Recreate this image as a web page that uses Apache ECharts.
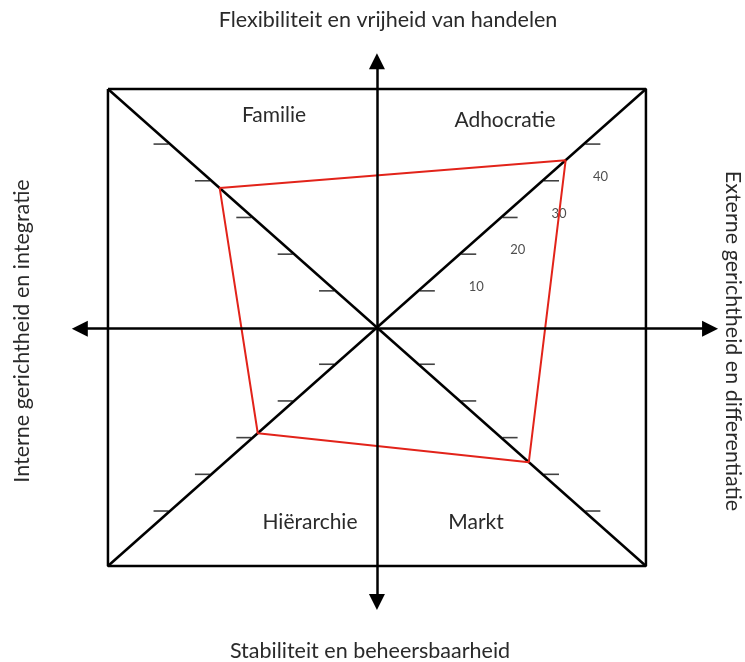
<!DOCTYPE html>
<html>
<head>
<meta charset="utf-8">
<script src="https://cdn.jsdelivr.net/npm/echarts@6/dist/echarts.min.js"></script>
<style>html,body{margin:0;padding:0;background:#fff}#c{width:745px;height:662px}</style>
</head>
<body>
<div id="c"></div>
<script>
// ---- data ----
const quadrants = ['Adhocratie', 'Familie', 'Hiërarchie', 'Markt'];
const scores = [45.6, 38.0, 28.8, 36.7];
const tickValues = [10, 20, 30, 40, 50];
const tickLabels = [10, 20, 30, 40];
const axisTitles = ['Flexibiliteit en vrijheid van handelen', 'Stabiliteit en beheersbaarheid',
                    'Interne gerichtheid en integratie', 'Externe gerichtheid en differentiatie'];

// ---- layout ----
const dirs = [[1, 1], [-1, 1], [-1, -1], [1, -1]];
const BOX = 65;
const FONT = 'Lato, "Open Sans", sans-serif';

const polygon = scores.map((v, i) => [dirs[i][0] * v, dirs[i][1] * v]);
polygon.push(polygon[0]);

const ticksRight = [], ticksLeft = [];
dirs.forEach(d => tickValues.forEach(t => {
  (d[0] > 0 ? ticksRight : ticksLeft).push([d[0] * t, d[1] * t]);
}));
const labelPts = tickLabels.map(t => [t, t]);

const quadPos = [[505, 120], [274, 115], [310, 522], [476, 522]];

const chart = echarts.init(document.getElementById('c'), null, {renderer: 'canvas'});
chart.setOption({
  animation: false,
  backgroundColor: '#fff',
  grid: {left: 25.2, top: 34, width: 703.5, height: 587.1},
  xAxis: {type: 'value', min: -85, max: 85, show: false},
  yAxis: {type: 'value', min: -80, max: 80, show: false},
  series: [
    {type: 'line', clip: false, symbol: 'none', silent: true,
     data: [[-BOX, BOX], [BOX, BOX], [BOX, -BOX], [-BOX, -BOX], [-BOX, BOX]],
     lineStyle: {color: '#000', width: 2.5}},
    {type: 'line', clip: false, symbol: 'none', silent: true,
     data: [[-BOX, BOX], [BOX, -BOX]], lineStyle: {color: '#000', width: 2.5}},
    {type: 'line', clip: false, symbol: 'none', silent: true,
     data: [[-BOX, -BOX], [BOX, BOX]], lineStyle: {color: '#000', width: 2.5}},
    {type: 'line', clip: false, symbol: 'none', silent: true,
     data: [[0, 0]], lineStyle: {width: 0},
     markLine: {silent: true, symbol: ['triangle', 'triangle'], symbolSize: 16,
       label: {show: false}, emphasis: {disabled: true},
       lineStyle: {color: '#000', width: 2.5, type: 'solid'},
       data: [
         [{coord: [0, -74.8]}, {coord: [0, 72.6]}],
         [{coord: [-71.8, -0.3]}, {coord: [80.5, -0.3]}]
       ]}},
    {type: 'scatter', clip: false, silent: true, data: ticksRight,
     symbol: 'rect', symbolSize: [15, 1.6], symbolOffset: [9, 0],
     itemStyle: {color: '#111'}},
    {type: 'scatter', clip: false, silent: true, data: ticksLeft,
     symbol: 'rect', symbolSize: [15, 1.6], symbolOffset: [-9, 0],
     itemStyle: {color: '#111'}},
    {type: 'scatter', clip: false, silent: true, data: labelPts, symbolSize: 0,
     label: {show: true, position: 'inside', offset: [58, -4],
       formatter: p => String(p.value[0]), color: '#222', fontSize: 13, fontFamily: FONT}},
    {type: 'line', clip: false, symbol: 'none', silent: true, data: polygon,
     lineStyle: {color: '#e2231a', width: 2}}
  ],
  graphic: [
    {type: 'text', x: 388, y: 20, style: {text: axisTitles[0], font: '21.5px ' + FONT, fill: '#2a2a2a', textAlign: 'center', textVerticalAlign: 'middle'}},
    {type: 'text', x: 370, y: 651, style: {text: axisTitles[1], font: '21.5px ' + FONT, fill: '#2a2a2a', textAlign: 'center', textVerticalAlign: 'middle'}},
    {type: 'text', x: 22, y: 331, rotation: Math.PI / 2, style: {text: axisTitles[2], font: '21.5px ' + FONT, fill: '#2a2a2a', textAlign: 'center', textVerticalAlign: 'middle'}},
    {type: 'text', x: 733, y: 341, rotation: -Math.PI / 2, style: {text: axisTitles[3], font: '21.5px ' + FONT, fill: '#2a2a2a', textAlign: 'center', textVerticalAlign: 'middle'}}
  ].concat(quadrants.map((q, i) => ({
    type: 'text', x: quadPos[i][0], y: quadPos[i][1],
    style: {text: q, font: '21px ' + FONT, fill: '#2a2a2a', textAlign: 'center', textVerticalAlign: 'middle'}
  })))
});
</script>
</body>
</html>
